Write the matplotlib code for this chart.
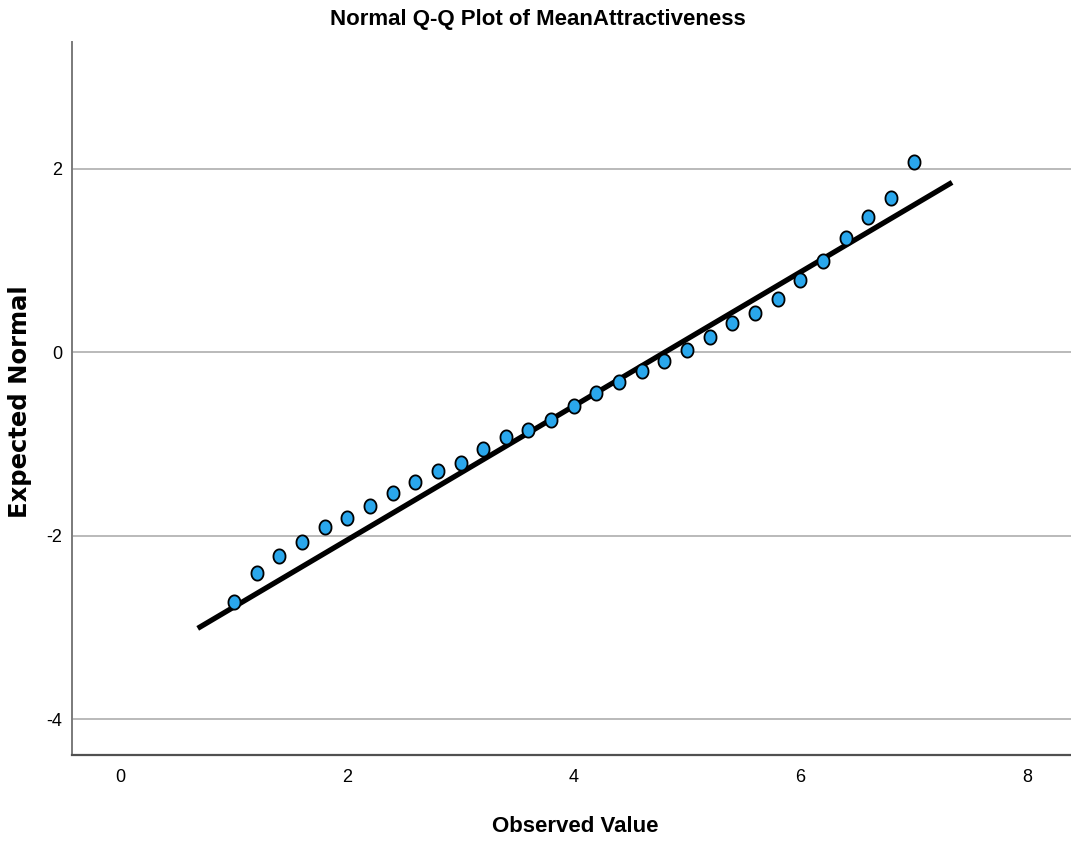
import matplotlib.pyplot as plt
import numpy as np

# observed values and their expected normal scores
observed = [1.0, 1.2, 1.4, 1.6, 1.8, 2.0, 2.2, 2.4, 2.6, 2.8, 3.0,
            3.2, 3.4, 3.6, 3.8, 4.0, 4.2, 4.4, 4.6, 4.8, 5.0,
            5.2, 5.4, 5.6, 5.8, 6.0, 6.2, 6.4, 6.6, 6.8, 7.0]
expected = [-2.72, -2.41, -2.22, -2.07, -1.90, -1.81, -1.68, -1.53, -1.41, -1.30, -1.21,
            -1.06, -0.93, -0.85, -0.74, -0.59, -0.45, -0.33, -0.21, -0.10, 0.02,
            0.17, 0.32, 0.43, 0.58, 0.79, 0.99, 1.24, 1.47, 1.68, 2.07]

# reference line endpoints (observed value -> z)
line_x = [0.68, 7.34]
line_y = [-3.01, 1.85]

xticks = [0, 2, 4, 6, 8]
yticks = [-4, -2, 0, 2]

narrow = ['Liberation Sans Narrow', 'Liberation Sans', 'DejaVu Sans']

# slightly tall ellipse marker
t = np.linspace(0, 2 * np.pi, 60)
ellipse = np.column_stack([0.85 * np.cos(t), np.sin(t)])

fig = plt.figure(figsize=(10.71, 8.43), dpi=100)
ax = fig.add_axes([72 / 1071, 88 / 843, 1 - 72 / 1071, (755 - 42) / 843])

for y in yticks:
    ax.axhline(y, color='#b4b4b4', lw=1.3, zorder=0)

ax.plot(line_x, line_y, color='black', lw=3.8, solid_capstyle='butt', zorder=2)
ax.scatter(observed, expected, s=105, marker=ellipse, c='#2aa7ec',
           edgecolors='black', linewidths=1.3, zorder=3)

ax.set_xlim(-0.43, 8.39)
ax.set_ylim(-4.39, 3.38)
ax.set_xticks(xticks)
ax.set_yticks(yticks)
ax.set_xticklabels([str(v) for v in xticks], family=narrow, fontsize=13)
ax.set_yticklabels([str(v) for v in yticks], family=narrow, fontsize=13)
ax.tick_params(length=0)
ax.tick_params(axis='x', pad=10)
ax.tick_params(axis='y', pad=7)

for side in ['top', 'right']:
    ax.spines[side].set_visible(False)
ax.spines['left'].set_color('#7a7a7a')
ax.spines['bottom'].set_color('#505050')
ax.spines['left'].set_linewidth(1.4)
ax.spines['bottom'].set_linewidth(1.6)

fig.text(538 / 1071, 1 - 20 / 843, 'Normal Q-Q Plot of MeanAttractiveness',
         ha='center', va='center', family=narrow, fontweight='bold', fontsize=16)
fig.text(575 / 1071, 1 - 826 / 843, 'Observed Value',
         ha='center', va='center', family=narrow, fontweight='bold', fontsize=16)
fig.text(20 / 1071, 1 - 402 / 843, 'Expected Normal', rotation=90,
         ha='center', va='center', family='DejaVu Sans', fontweight='bold', fontsize=17.5)

fig.savefig('out.png', dpi=100)
